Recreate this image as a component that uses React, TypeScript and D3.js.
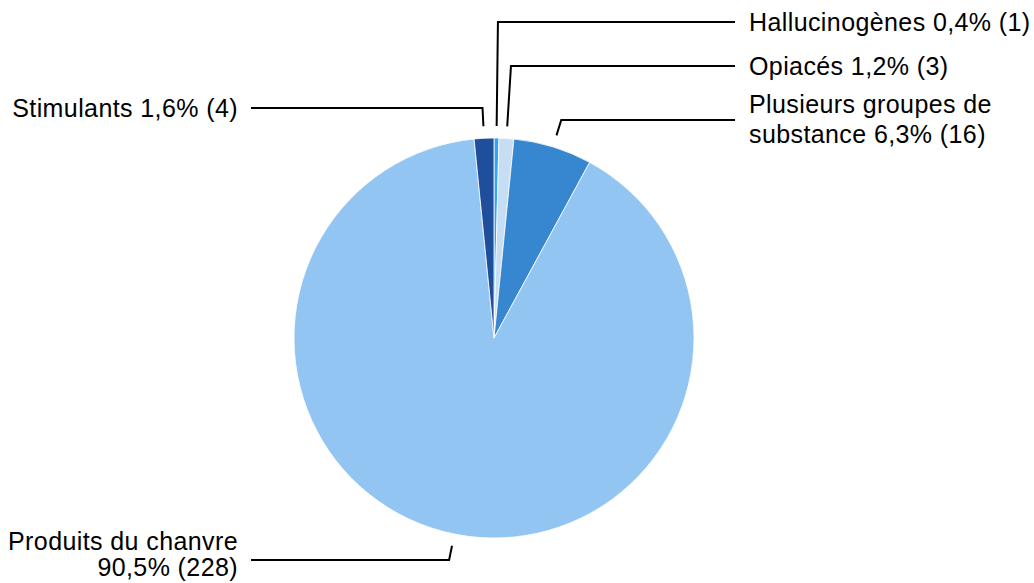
import React from 'react'
import * as d3 from 'd3'

// slices, clockwise from 12 o'clock
const categories = ['Hallucinogènes', 'Opiacés', 'Plusieurs groupes de substance', 'Produits du chanvre', 'Stimulants']
const counts = [1, 3, 16, 228, 4]
const labelLines = [
  ['Hallucinogènes 0,4% (1)'],
  ['Opiacés 1,2% (3)'],
  ['Plusieurs groupes de', 'substance 6,3% (16)'],
  ['Produits du chanvre', '90,5% (228)'],
  ['Stimulants 1,6% (4)'],
]
const colors = ['#2ea3f7', '#c6ddf4', '#3787d0', '#93c5f3', '#1f4e9b']

// label anchor (y of the horizontal leader) and side
const labelY = [22, 66, 120, 560, 108]
const side = ['right', 'right', 'right', 'left', 'left']

const W = 1034
const H = 583
const cx = 494
const cy = 338
const R = 200
const rLine = 212

export default function App() {
  const pie = d3.pie<number>().sort(null).value(d => d)
  const arcs = pie(counts)
  const arc = d3.arc<d3.PieArcDatum<number>>().innerRadius(0).outerRadius(R)

  return (
    <svg width={W} height={H} style={{ position: 'absolute', left: 0, top: 0, fontFamily: 'Liberation Sans, Arial, sans-serif' }}>
      <rect width={W} height={H} fill="#fff" />
      <g transform={`translate(${cx},${cy})`}>
        {arcs.map((a, i) => (
          <path key={categories[i]} d={arc(a) || ''} fill={colors[i]} stroke="#fff" strokeWidth={0.8} />
        ))}
      </g>
      {arcs.map((a, i) => {
        const mid = (a.startAngle + a.endAngle) / 2
        const sx = cx + rLine * Math.sin(mid)
        const sy = cy - rLine * Math.cos(mid)
        // elbow on the same radial line, at the label's height
        const rElbow = (cy - labelY[i]) / Math.cos(mid)
        const ex = cx + rElbow * Math.sin(mid)
        const ey = labelY[i]
        const isRight = side[i] === 'right'
        const hx = isRight ? 735 : 251
        const tx = isRight ? 749 : 238
        const lines = labelLines[i]
        const twoLine = lines.length > 1
        const firstBase = !twoLine ? labelY[i] + 9 : isRight ? labelY[i] - 7 : labelY[i] - 10
        const gap = isRight ? 30 : 26
        return (
          <g key={categories[i]}>
            <polyline points={`${sx},${sy} ${ex},${ey} ${hx},${ey}`} fill="none" stroke="#000" strokeWidth={2} />
            <text x={tx} y={firstBase} fontSize={25} letterSpacing={0.4} fill="#000" textAnchor={isRight ? 'start' : 'end'}>
              {lines.map((l, j) => (
                <tspan key={j} x={tx} dy={j === 0 ? 0 : gap}>{l}</tspan>
              ))}
            </text>
          </g>
        )
      })}
    </svg>
  )
}
